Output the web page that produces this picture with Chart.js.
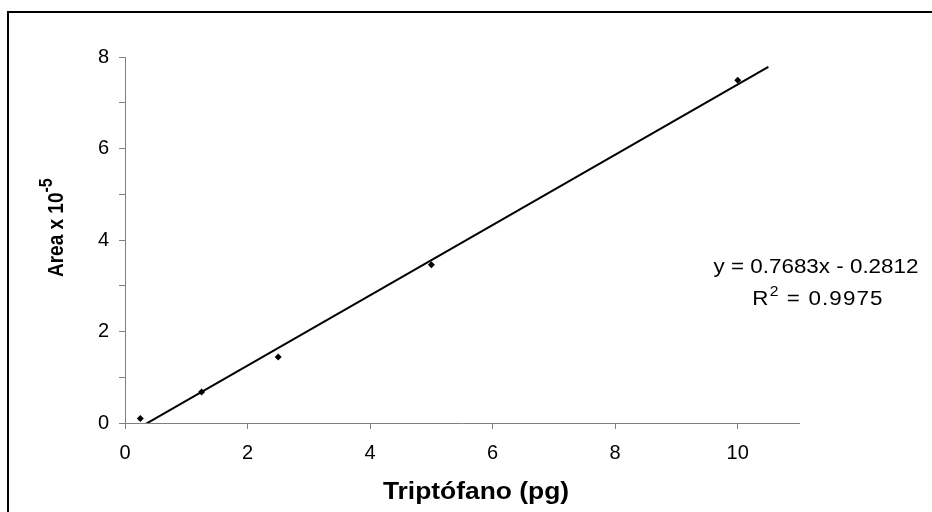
<!DOCTYPE html>
<html>
<head>
<meta charset="utf-8">
<script src="https://cdn.jsdelivr.net/npm/chart.js@4/dist/chart.umd.min.js"></script>
<style>
  html, body { margin: 0; padding: 0; background: #fff; overflow: hidden; }
  #wrap { position: relative; width: 932px; height: 512px; }
</style>
</head>
<body>
<div id="wrap"><canvas id="curve" width="932" height="512"></canvas></div>
<script>
// calibration standards: tryptophan amount (pg) vs peak area (x 10^-5)
const amounts = [0.25, 1.25, 2.5, 5, 10];
const areas = [0.10, 0.68, 1.44, 3.46, 7.49];
const xLabels = [0, 2, 4, 6, 8, 10];
const yLabels = [0, 2, 4, 6, 8];
// least squares fit printed next to the line
const slope = 0.7683;
const intercept = -0.2812;
const rSquared = 0.9975;
const fitFrom = 0.25;
const fitTo = 10.5;

const FONT = "'Liberation Sans', Arial, sans-serif";
const AXIS_GREY = '#808080';

const fitLine = [fitFrom, fitTo].map(x => ({ x, y: slope * x + intercept }));

function setFont(ctx, r, spacing) {
  ctx.font = (r.bold ? 'bold ' : '') + r.size + 'px ' + FONT;
  ctx.letterSpacing = (spacing || 0) + 'px';
}
function runsWidth(ctx, runs, spacing) {
  let w = 0;
  runs.forEach(r => { setFont(ctx, r, spacing); w += ctx.measureText(r.text).width; });
  return w;
}
// draws a row of text pieces (normal + superscript) centred on cx, sitting on baseline y;
// sx widens the glyphs a little
function drawRuns(ctx, runs, cx, y, opts) {
  const o = Object.assign({ spacing: 0, sx: 1, align: 'center' }, opts);
  const w = runsWidth(ctx, runs, o.spacing);
  ctx.save();
  ctx.translate(cx, y);
  ctx.scale(o.sx, 1);
  let x = o.align === 'center' ? -w / 2 : 0;
  runs.forEach(r => {
    setFont(ctx, r, o.spacing);
    ctx.fillText(r.text, x, -(r.rise || 0));
    x += ctx.measureText(r.text).width;
  });
  ctx.restore();
}

const decorations = {
  id: 'decorations',
  beforeDraw(chart) {
    const ctx = chart.ctx;
    ctx.save();
    ctx.fillStyle = '#fff';
    ctx.fillRect(0, 0, chart.width, chart.height);
    // outer frame, only left and top edges fall inside the page
    ctx.fillStyle = '#000';
    ctx.fillRect(7, 11, 2, chart.height);
    ctx.fillRect(7, 11, chart.width, 2);
    ctx.restore();
  },
  afterDraw(chart) {
    const ctx = chart.ctx;
    ctx.save();
    ctx.fillStyle = '#000';
    ctx.textBaseline = 'alphabetic';
    ctx.textAlign = 'left';

    // x axis title
    drawRuns(ctx, [{ text: 'Triptófano (pg)', size: 24, bold: true }], 476, 499, { sx: 1.1 });

    // y axis title, rotated
    ctx.save();
    ctx.translate(63, 277);
    ctx.scale(1.18, 1);
    ctx.rotate(-Math.PI / 2);
    drawRuns(ctx, [
      { text: 'Area x 10', size: 19, bold: true },
      { text: '-5', size: 16, bold: true, rise: 9 }
    ], 0, 0, { align: 'left' });
    ctx.restore();

    // fit equation
    drawRuns(ctx, [{ text: 'y = ' + slope + 'x - ' + Math.abs(intercept), size: 20 }], 816, 273, { sx: 1.12 });
    drawRuns(ctx, [
      { text: 'R', size: 20 },
      { text: '2', size: 14, rise: 9 },
      { text: ' = ' + rSquared, size: 20 }
    ], 818, 305, { sx: 1.12, spacing: 1 });
    ctx.restore();
  }
};

new Chart(document.getElementById('curve'), {
  type: 'scatter',
  data: {
    datasets: [
      {
        data: amounts.map((x, i) => ({ x, y: areas[i] })),
        pointStyle: 'rectRot',
        pointRadius: 3.5,
        pointBorderWidth: 0,
        backgroundColor: '#000',
        borderColor: '#000'
      },
      {
        data: fitLine,
        showLine: true,
        pointRadius: 0,
        borderColor: '#000',
        borderWidth: 2,
        clip: 0
      }
    ]
  },
  options: {
    responsive: false,
    animation: false,
    events: [],
    layout: { padding: { left: 0, top: 57, right: 133, bottom: 0 } },
    plugins: { legend: { display: false }, tooltip: { enabled: false } },
    scales: {
      x: {
        type: 'linear', min: 0, max: 11,
        afterFit: s => { s.height = 89; },
        afterBuildTicks: s => { s.ticks = xLabels.map(v => ({ value: v })); },
        border: { color: AXIS_GREY, width: 1 },
        grid: { drawOnChartArea: false, drawTicks: true, tickLength: 6, color: AXIS_GREY },
        ticks: { color: '#000', padding: 12, font: { family: FONT, size: 20 }, maxRotation: 0 }
      },
      y: {
        type: 'linear', min: 0, max: 8,
        afterFit: s => { s.width = 125; },
        border: { color: AXIS_GREY, width: 1 },
        grid: { drawOnChartArea: false, drawTicks: true, tickLength: 6, color: AXIS_GREY },
        ticks: {
          stepSize: 1, color: '#000', padding: 10,
          font: { family: FONT, size: 20 },
          callback: v => yLabels.includes(v) ? String(v) : ''
        }
      }
    }
  },
  plugins: [decorations]
});
</script>
</body>
</html>
